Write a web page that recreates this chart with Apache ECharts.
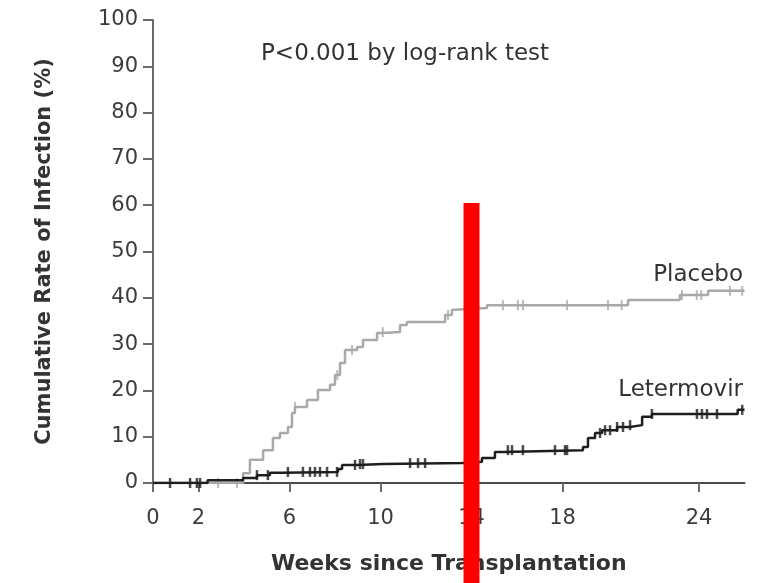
<!DOCTYPE html>
<html>
<head>
<meta charset="utf-8">
<script src="https://cdn.jsdelivr.net/npm/echarts@6/dist/echarts.min.js"></script>
<style>
  html, body { margin: 0; padding: 0; background: #fff; }
  #chart { width: 760px; height: 583px; }
</style>
</head>
<body>
<div id="chart"></div>
<script>
// Cumulative infection curves: [week, cumulative %] at each event time
const placeboSteps = [
  [0, 0], [3.96, 2.1], [4.26, 5.0], [4.84, 7.1], [5.27, 9.7], [5.58, 10.8],
  [5.93, 12.1], [6.11, 15.1], [6.24, 16.4], [6.77, 17.9], [7.25, 20.1],
  [7.78, 21.2], [8.0, 23.3], [8.22, 25.9], [8.44, 28.7], [8.97, 29.4],
  [9.23, 30.9], [9.85, 32.4], [10.1, 32.6], [10.86, 34.1], [11.16, 34.8],
  [12.84, 36.3], [13.14, 37.4], [13.27, 37.8], [14.68, 38.4], [20.88, 39.5],
  [23.16, 40.6], [24.4, 41.5], [26, 41.5]
];
const letermovirSteps = [
  [0, 0], [2.4, 0.6], [3.96, 1.1], [4.57, 1.7], [5.14, 2.2], [5.71, 2.4],
  [8.13, 3.0], [8.31, 3.9], [9.0, 4.1], [10.1, 4.3], [13.6, 4.6],
  [14.46, 5.4], [15.03, 6.7], [15.4, 7.1], [18.9, 7.8], [19.12, 9.7],
  [19.43, 10.8], [19.74, 11.4], [20.4, 12.1], [20.97, 12.5], [21.5, 14.3],
  [21.93, 14.9], [25.7, 15.8], [26, 15.8]
];

// Censoring times (weeks)
const placeboCensored = [2.86, 3.69, 6.24, 8.1, 8.75, 10.1, 12.97, 15.38, 16.04,
  16.26, 18.2, 20.0, 20.6, 23.25, 23.9, 24.1, 25.36, 25.9];
const letermovirCensored = [0.75, 1.63, 1.93, 2.07, 4.57, 5.05, 5.93, 6.59, 6.9,
  7.12, 7.34, 7.65, 8.09, 8.88, 9.1, 9.23, 11.3, 11.65, 11.96, 15.6, 15.78,
  16.26, 17.67, 18.11, 18.2, 19.65, 19.87, 20.09, 20.4, 20.66, 20.97, 21.93,
  23.91, 24.13, 24.35, 24.79, 25.9];

const xTickLabels = [0, 2, 6, 10, 14, 18, 24];
const yTickLabels = [0, 10, 20, 30, 40, 50, 60, 70, 80, 90, 100];

// Value of a step curve at time t
function stepValue(steps, t) {
  let v = steps[0][1];
  for (const [x, y] of steps) { if (x <= t) v = y; else break; }
  return v;
}

const FONT = '"DejaVu Sans", "Open Sans", sans-serif';
const AXIS_COLOR = '#6a6a6a';
const TEXT_COLOR = '#3c3c3c';
const PLACEBO_COLOR = '#a9a9a9';
const LETER_COLOR = '#1e1e1e';

const chart = echarts.init(document.getElementById('chart'), null, { renderer: 'canvas' });

chart.setOption({
  animation: false,
  backgroundColor: '#fff',
  grid: { left: 153, right: 15.5, top: 20, bottom: 100, containLabel: false },
  xAxis: {
    type: 'value',
    min: 0, max: 26,
    name: 'Weeks since Transplantation',
    nameLocation: 'middle',
    nameGap: 70,
    nameTextStyle: { fontFamily: FONT, fontSize: 22, fontWeight: 'bold', color: '#333' },
    axisLine: { show: true, lineStyle: { color: '#4a4a4a', width: 2 } },
    axisTick: { show: true, customValues: xTickLabels, length: 9, inside: false,
      lineStyle: { color: AXIS_COLOR, width: 2 } },
    axisLabel: { customValues: xTickLabels, fontFamily: FONT, fontSize: 21,
      color: TEXT_COLOR, margin: 25 },
    splitLine: { show: false }
  },
  yAxis: {
    type: 'value',
    min: 0, max: 100, interval: 10,
    name: 'Cumulative Rate of Infection (%)',
    nameLocation: 'middle',
    nameGap: 98,
    nameRotate: 90,
    nameTextStyle: { fontFamily: FONT, fontSize: 21, fontWeight: 'bold', color: '#333' },
    axisLine: { show: true, lineStyle: { color: AXIS_COLOR, width: 2 } },
    axisTick: { show: true, length: 10, lineStyle: { color: AXIS_COLOR, width: 2 } },
    axisLabel: { customValues: yTickLabels, fontFamily: FONT, fontSize: 21,
      color: TEXT_COLOR, margin: 15 },
    splitLine: { show: false }
  },
  series: [
    {
      name: 'Placebo', type: 'line', step: 'end', showSymbol: false,
      data: placeboSteps, z: 2,
      lineStyle: { color: PLACEBO_COLOR, width: 2.5 }
    },
    {
      name: 'Letermovir', type: 'line', step: 'end', showSymbol: false,
      data: letermovirSteps, z: 3,
      lineStyle: { color: LETER_COLOR, width: 2.5 }
    },
    {
      name: 'Placebo censored', type: 'scatter', symbol: 'rect', symbolSize: [2, 10],
      data: placeboCensored.map(t => [t, stepValue(placeboSteps, t)]), z: 2,
      itemStyle: { color: PLACEBO_COLOR }
    },
    {
      name: 'Letermovir censored', type: 'scatter', symbol: 'rect', symbolSize: [2.5, 10],
      data: letermovirCensored.map(t => [t, stepValue(letermovirSteps, t)]), z: 3,
      itemStyle: { color: LETER_COLOR }
    }
  ]
});

// Text annotations and the highlight bar at week 14
const barTop = chart.convertToPixel({ gridIndex: 0 }, [14, 60.5]);
const barHalf = 8;

chart.setOption({
  graphic: [
    {
      type: 'text', x: 261, y: 54,
      style: { text: 'P<0.001 by log-rank test', font: '23px ' + FONT, fill: '#333',
        align: 'left', verticalAlign: 'middle' }
    },
    {
      type: 'text', x: 743, y: 275,
      style: { text: 'Placebo', font: '23px ' + FONT, fill: '#333',
        align: 'right', verticalAlign: 'middle' }
    },
    {
      type: 'text', x: 743, y: 390,
      style: { text: 'Letermovir', font: '23px ' + FONT, fill: '#333',
        align: 'right', verticalAlign: 'middle' }
    },
    {
      type: 'rect', z: 100,
      shape: { x: barTop[0] - barHalf, y: barTop[1], width: barHalf * 2, height: 583 - barTop[1] },
      style: { fill: '#ff0000' }
    }
  ]
});
</script>
</body>
</html>
